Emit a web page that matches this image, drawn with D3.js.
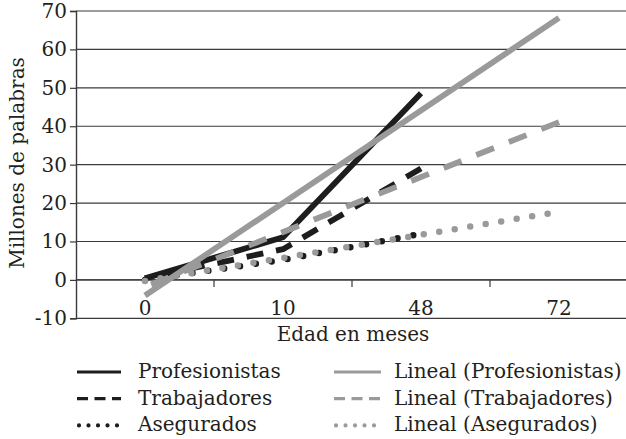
<!DOCTYPE html>
<html><head><meta charset="utf-8">
<script src="https://cdn.jsdelivr.net/npm/d3@7"></script>
<style>
html,body{margin:0;padding:0;background:#fff;}
svg{display:block;}
text{font-family:"DejaVu Serif",serif;fill:#231f20;}
</style></head>
<body>
<svg id="c" width="626" height="439"></svg>
<script>
const categories = ["0", "10", "48", "72"];
const dataCategories = ["0", "10", "48"];
const profesionistas = [0.4, 11.1, 48.6];
const trabajadores = [0.4, 8, 29];
const asegurados = [0, 5.2, 12];
const yTicks = [-10, 0, 10, 20, 30, 40, 50, 60, 70];
const seriesNames = ["Profesionistas", "Trabajadores", "Asegurados"];
const trendNames = ["Lineal (Profesionistas)", "Lineal (Trabajadores)", "Lineal (Asegurados)"];

const svg = d3.select("#c");
const L = 76, R = 628, T = 11, B = 318.3;
const x = d3.scalePoint().domain(categories).range([L, R]).padding(0.5);
const xb = d3.scaleBand().domain(categories).range([L, R]);
const y = d3.scaleLinear().domain([-10, 70]).range([B, T]);

const BLACK = "#1e1c1d", GREY = "#9a9a9a", GRID = "#3a3a3a";

// gridlines
svg.append("g").selectAll("line").data(yTicks).join("line")
  .attr("x1", L).attr("x2", R).attr("y1", d => y(d)).attr("y2", d => y(d))
  .attr("stroke", GRID).attr("stroke-width", 1.2);

// y axis
const ya = svg.append("g").attr("transform", `translate(${L},0)`)
  .call(d3.axisLeft(y).tickValues(yTicks).tickSize(6).tickPadding(3).tickFormat(d => String(d)));
ya.select(".domain").attr("stroke", GRID).attr("stroke-width", 1.4);
ya.selectAll(".tick line").attr("stroke", GRID).attr("stroke-width", 1.2);
ya.selectAll(".tick text").attr("font-size", 20).attr("font-family", "DejaVu Serif").attr("fill", "#231f20");

// x axis at zero
const xaY = y(0);
svg.append("line").attr("x1", L).attr("x2", R).attr("y1", xaY).attr("y2", xaY)
  .attr("stroke", GRID).attr("stroke-width", 1.4);
svg.append("g").selectAll("line").data(categories.slice(1)).join("line")
  .attr("x1", d => xb(d)).attr("x2", d => xb(d)).attr("y1", xaY).attr("y2", xaY + 7)
  .attr("stroke", GRID).attr("stroke-width", 1.2);
svg.append("g").selectAll("text").data(categories).join("text")
  .attr("x", d => x(d)).attr("y", 315).attr("text-anchor", "middle")
  .attr("font-size", 20).text(d => d);

// axis titles
svg.append("text").attr("x", 353).attr("y", 341).attr("text-anchor", "middle")
  .attr("font-size", 20).text("Edad en meses");
svg.append("text").attr("transform", "translate(24,163) rotate(-90)")
  .attr("text-anchor", "middle").attr("font-size", 20).text("Millones de palabras");

// align dash pattern so the path ends on a full dash
function alignDash(path, dashLen, period) {
  const len = path.node().getTotalLength();
  path.attr("stroke-dashoffset", dashLen - (len % period));
}

// series
const series = [profesionistas, trabajadores, asegurados];
const styles = [
  {dash: null, cap: "butt", w: 5.8},
  {dash: [17, 13], cap: "butt", w: 5.8},
  {dash: [0, 16], cap: "round", w: 6.5}
];
const line = d3.line().x((d, i) => x(dataCategories[i])).y(d => y(d));
series.forEach((s, k) => {
  const p = svg.append("path").datum(s).attr("d", line).attr("fill", "none")
    .attr("stroke", BLACK).attr("stroke-width", styles[k].w)
    .attr("stroke-linecap", styles[k].cap).attr("stroke-linejoin", "round")
    .attr("stroke-dasharray", styles[k].dash ? styles[k].dash.join(",") : null);
  if (styles[k].dash && styles[k].cap === "butt") alignDash(p, styles[k].dash[0], d3.sum(styles[k].dash));
});

// linear trendlines (least squares on category index), forward 1 period
function trend(vals) {
  const xs = vals.map((v, i) => i + 1);
  const mx = d3.mean(xs), my = d3.mean(vals);
  const slope = d3.sum(xs, (xi, i) => (xi - mx) * (vals[i] - my)) / d3.sum(xs, xi => (xi - mx) ** 2);
  const b = my - slope * mx;
  return [1, categories.length].map(i => ({c: categories[i - 1], v: b + slope * i}));
}
const tline = d3.line().x(d => x(d.c)).y(d => y(d.v));
const tstyles = [
  {dash: null, cap: "butt", w: 5.8},
  {dash: [19, 16], cap: "butt", w: 5.8},
  {dash: [0, 15.7], cap: "round", w: 6.5}
];
series.forEach((s, k) => {
  const p = svg.append("path").datum(trend(s)).attr("d", tline).attr("fill", "none")
    .attr("stroke", GREY).attr("stroke-width", tstyles[k].w)
    .attr("stroke-linecap", tstyles[k].cap)
    .attr("stroke-dasharray", tstyles[k].dash ? tstyles[k].dash.join(",") : null);
  if (tstyles[k].dash && tstyles[k].cap === "butt") alignDash(p, tstyles[k].dash[0], d3.sum(tstyles[k].dash));
});

// legend
const rowsY = [378, 404.7, 431.4];
const legStyles = [
  {dash: null, cap: "butt", w: 3},
  {dash: "11,6.5", cap: "butt", w: 3.2},
  {dash: "0,9.5", cap: "round", w: 4.2}
];
const cols = [
  {x1: 77, x2: 121, tx: 138, color: BLACK, names: seriesNames},
  {x1: 334, x2: 381, tx: 394, color: GREY, names: trendNames}
];
cols.forEach(col => {
  col.names.forEach((n, i) => {
    const yy = rowsY[i] - 6;
    const st = legStyles[i];
    svg.append("line").attr("x1", st.cap === "round" ? col.x1 + 2 : col.x1).attr("x2", col.x2)
      .attr("y1", yy).attr("y2", yy)
      .attr("stroke", col.color).attr("stroke-width", st.w)
      .attr("stroke-linecap", st.cap).attr("stroke-dasharray", st.dash);
    svg.append("text").attr("x", col.tx).attr("y", rowsY[i]).attr("font-size", 20).text(n);
  });
});
</script>
</body></html>
